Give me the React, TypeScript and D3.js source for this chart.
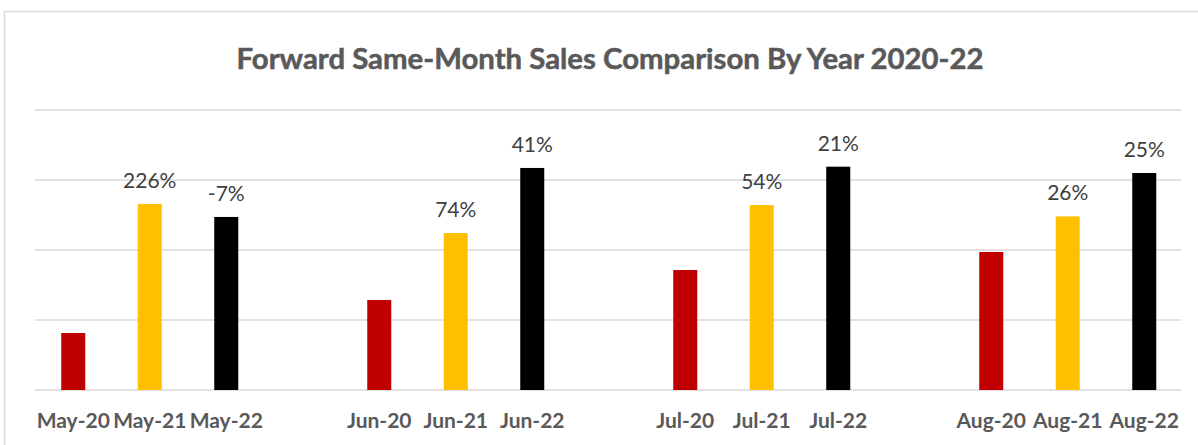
import React from "react";
import * as d3 from "d3";

const months = ["May", "Jun", "Jul", "Aug"];
const years = ["20", "21", "22"];
const sales2020 = [407, 643, 857, 986];
const sales2021 = [1329, 1121, 1321, 1240];
const sales2022 = [1236, 1586, 1595, 1550];
const growth2021 = ["226%", "74%", "54%", "26%"];
const growth2022 = ["-7%", "41%", "21%", "25%"];
const yTicks = [0, 500, 1000, 1500, 2000];
const seriesColors = ["#C00000", "#FFC000", "#000000"];

const W = 1198;
const H = 445;

export default function App() {
  const seriesValues = [sales2020, sales2021, sales2022];
  const seriesLabels: (string[] | null)[] = [null, growth2021, growth2022];

  const slots: string[] = [];
  months.forEach((m, mi) => {
    years.forEach((y) => slots.push(`${m}-${y}`));
    if (mi < months.length - 1) slots.push(`gap-${mi}`);
  });

  const x = d3.scaleBand<string>().domain(slots).range([35, 1182.5]).padding(0);
  const y = d3.scaleLinear().domain([0, 2000]).range([390, 110]);
  const barW = x.bandwidth() * 0.314;

  const bars: { key: string; cx: number; v: number; color: string; label: string | null }[] = [];
  months.forEach((m, mi) => {
    years.forEach((yr, si) => {
      const key = `${m}-${yr}`;
      const lbls = seriesLabels[si];
      bars.push({
        key,
        cx: (x(key) as number) + x.bandwidth() / 2,
        v: seriesValues[si][mi],
        color: seriesColors[si],
        label: lbls ? lbls[mi] : null,
      });
    });
  });

  return (
    <svg
      width={W}
      height={H}
      style={{ position: "absolute", left: 0, top: 0, background: "#fff" }}
    >
      <rect x={0} y={0} width={W} height={H} fill="#fff" />
      <line x1={4.5} y1={11.5} x2={W} y2={11.5} stroke="#d9d9d9" strokeWidth={1.5} />
      <line x1={4.5} y1={11.5} x2={4.5} y2={H} stroke="#d9d9d9" strokeWidth={1.5} />

      <text
        x={610}
        y={69}
        textAnchor="middle"
        fontFamily="Lato, 'Open Sans', sans-serif"
        fontWeight="bold"
        fontSize={28}
        fill="#595959"
        stroke="#595959"
        strokeWidth={0.5}
        textLength={747}
        lengthAdjust="spacingAndGlyphs"
      >
        Forward Same-Month Sales Comparison By Year 2020-22
      </text>

      {yTicks.map((t) => (
        <line
          key={t}
          x1={35}
          x2={1181}
          y1={y(t)}
          y2={y(t)}
          stroke="#d9d9d9"
          strokeWidth={1.5}
        />
      ))}

      {bars.map((b) => (
        <g key={b.key}>
          <rect
            x={b.cx - barW / 2}
            y={y(b.v)}
            width={barW}
            height={y(0) - y(b.v)}
            fill={b.color}
          />
          {b.label && (
            <text
              x={b.cx}
              y={y(b.v) - 16}
              textAnchor="middle"
              fontFamily="Lato, 'Open Sans', sans-serif"
              fontSize={21}
              fill="#404040"
            >
              {b.label}
            </text>
          )}
          <text
            x={b.cx}
            y={428}
            textAnchor="middle"
            fontFamily="Lato, 'Open Sans', sans-serif"
            fontWeight="bold"
            fontSize={21}
            fill="#595959"
          >
            {b.key}
          </text>
        </g>
      ))}
    </svg>
  );
}
